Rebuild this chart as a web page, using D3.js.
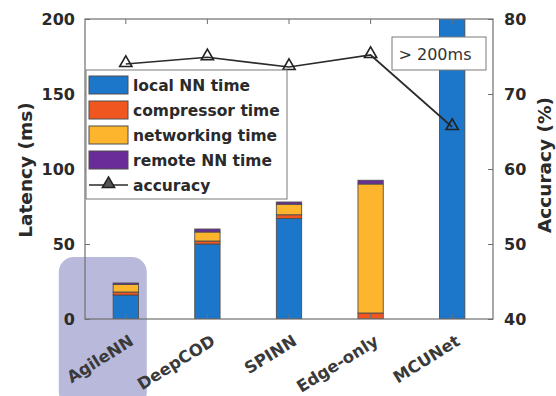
<!DOCTYPE html>
<html>
<head>
<meta charset="utf-8">
<script src="https://cdn.jsdelivr.net/npm/d3@7"></script>
<style>
  html, body { margin: 0; padding: 0; background: #fff; }
  svg { display: block; }
  text { font-family: "DejaVu Sans", sans-serif; }
</style>
</head>
<body>
<svg id="chart" width="556" height="396"></svg>
<script>
// Methods compared
const categories = ["AgileNN", "DeepCOD", "SPINN", "Edge-only", "MCUNet"];

// Latency components per method (ms)
const localNN     = [16, 50, 67, 0, 210];
const compressor  = [2, 2, 2.5, 4, 0];
const networking  = [5, 6, 7, 86, 0];
const remoteNN    = [1, 2, 1.5, 2.5, 0];

// Accuracy per method (%)
const accuracy = [74.0, 74.9, 73.6, 75.2, 65.6];

// Axis ticks
const latencyTicks = [0, 50, 100, 150, 200];
const accuracyTicks = [40, 50, 60, 70, 80];

const seriesKeys = ["local", "compressor", "networking", "remote"];
const seriesLabels = ["local NN time", "compressor time", "networking time", "remote NN time"];
const seriesColors = ["#1c76c9", "#f0561f", "#fdb52e", "#6a2c98"];

const rows = categories.map((c, i) => ({
  name: c,
  local: localNN[i],
  compressor: compressor[i],
  networking: networking[i],
  remote: remoteNN[i]
}));

const svg = d3.select("#chart");
const plotL = 85, plotR = 493, plotT = 19, plotB = 319;

const x = d3.scaleBand().domain(categories).range([plotL, plotR]).paddingInner(0.69).paddingOuter(0.345);
const yL = d3.scaleLinear().domain([0, 200]).range([plotB, plotT]);
const yR = d3.scaleLinear().domain([40, 80]).range([plotB, plotT]);

const axisColor = "#6f6f6f";
const textColor = "#2a2a2a";

// Plot background
svg.append("rect").attr("x", plotL).attr("y", plotT)
  .attr("width", plotR - plotL).attr("height", plotB - plotT).attr("fill", "#fff");

// Highlight around the first method
const hx = x("AgileNN") + x.bandwidth() / 2;
svg.append("rect")
  .attr("x", hx - 67).attr("y", 257)
  .attr("width", 88).attr("height", 150)
  .attr("rx", 15).attr("ry", 15)
  .attr("fill", "#b9b9dc");

// Clip for bars that exceed the axis range
svg.append("clipPath").attr("id", "plotClip")
  .append("rect").attr("x", plotL).attr("y", plotT)
  .attr("width", plotR - plotL).attr("height", plotB - plotT);

const stacked = d3.stack().keys(seriesKeys)(rows);

const barG = svg.append("g").attr("clip-path", "url(#plotClip)");
stacked.forEach((layer, li) => {
  barG.append("g").selectAll("rect")
    .data(layer.filter(d => d[1] - d[0] > 0))
    .join("rect")
    .attr("x", d => x(d.data.name))
    .attr("width", x.bandwidth())
    .attr("y", d => yL(d[1]))
    .attr("height", d => yL(d[0]) - yL(d[1]))
    .attr("fill", seriesColors[li])
    .attr("stroke", "#4f4f4f")
    .attr("stroke-width", 0.9);
});

// Axes box
svg.append("rect").attr("x", plotL).attr("y", plotT)
  .attr("width", plotR - plotL).attr("height", plotB - plotT)
  .attr("fill", "none").attr("stroke", axisColor).attr("stroke-width", 1.2);

// Left axis
const gL = svg.append("g").attr("transform", `translate(${plotL},0)`)
  .call(d3.axisLeft(yL).tickValues(latencyTicks).tickSizeInner(-5).tickSizeOuter(0).tickPadding(10));
// Right axis
const gR = svg.append("g").attr("transform", `translate(${plotR},0)`)
  .call(d3.axisRight(yR).tickValues(accuracyTicks).tickSizeInner(-5).tickSizeOuter(0).tickPadding(11));
// Bottom and top category ticks
const gB = svg.append("g").attr("transform", `translate(0,${plotB})`)
  .call(d3.axisBottom(x).tickSizeInner(-5).tickSizeOuter(0).tickFormat(""));
const gT = svg.append("g").attr("transform", `translate(0,${plotT})`)
  .call(d3.axisTop(x).tickSizeInner(-5).tickSizeOuter(0).tickFormat(""));

[gL, gR, gB, gT].forEach(g => {
  g.select(".domain").remove();
  g.selectAll(".tick line").attr("stroke", axisColor).attr("stroke-width", 1);
  g.selectAll(".tick text")
    .attr("fill", textColor)
    .style("font-family", "DejaVu Sans")
    .style("font-weight", "bold")
    .style("font-size", "16px");
});

// Category labels, rotated
svg.append("g").selectAll("text")
  .data(categories)
  .join("text")
  .attr("transform", d => `translate(${x(d) + x.bandwidth() / 2 + 9},${plotB + 25}) rotate(-32)`)
  .attr("text-anchor", "end")
  .attr("fill", "#3a3a3a")
  .style("font-weight", "bold")
  .style("font-size", "16.5px")
  .text(d => d);

// Axis titles
svg.append("text")
  .attr("transform", `translate(32,170) rotate(-90)`)
  .attr("text-anchor", "middle")
  .attr("fill", textColor)
  .style("font-weight", "bold").style("font-size", "18.5px")
  .text("Latency (ms)");
svg.append("text")
  .attr("transform", `translate(551,165) rotate(-90)`)
  .attr("text-anchor", "middle")
  .attr("fill", textColor)
  .style("font-weight", "bold").style("font-size", "18.5px")
  .text("Accuracy (%)");

// Accuracy line
const cx = d => x(d) + x.bandwidth() / 2;
svg.append("path")
  .datum(categories.map((c, i) => [cx(c), yR(accuracy[i])]))
  .attr("d", d3.line())
  .attr("fill", "none").attr("stroke", "#2b2b2b").attr("stroke-width", 1.7);

const tri = d3.symbol().type(d3.symbolTriangle).size(65);
svg.append("g").selectAll("path")
  .data(categories)
  .join("path")
  .attr("transform", (d, i) => `translate(${cx(d)},${yR(accuracy[i]) - 1})`)
  .attr("d", tri)
  .attr("fill", "none").attr("stroke", "#222").attr("stroke-width", 1.6);

// Out-of-range annotation
svg.append("rect").attr("x", 392).attr("y", 37).attr("width", 94).attr("height", 33)
  .attr("fill", "#fff").attr("stroke", "#7a7a7a").attr("stroke-width", 1);
svg.append("text").attr("x", 435).attr("y", 60)
  .attr("text-anchor", "middle").attr("fill", "#333")
  .style("font-size", "16px")
  .text("> 200ms");

// Legend
const lg = svg.append("g");
lg.append("rect").attr("x", 86).attr("y", 70).attr("width", 201).attr("height", 129)
  .attr("fill", "#fff").attr("stroke", "#7a7a7a").attr("stroke-width", 1);
const rowY = i => 85 + i * 25;
seriesLabels.forEach((lab, i) => {
  lg.append("rect").attr("x", 89).attr("y", rowY(i) - 9).attr("width", 39).attr("height", 18)
    .attr("fill", seriesColors[i]).attr("stroke", "#4f4f4f").attr("stroke-width", 1);
  lg.append("text").attr("x", 133).attr("y", rowY(i) + 6)
    .attr("fill", textColor).style("font-weight", "bold").style("font-size", "15.5px")
    .text(lab);
});
lg.append("line").attr("x1", 89).attr("x2", 128).attr("y1", rowY(4)).attr("y2", rowY(4))
  .attr("stroke", "#2b2b2b").attr("stroke-width", 1.7);
lg.append("path").attr("transform", `translate(108.5,${rowY(4) - 1})`).attr("d", tri)
  .attr("fill", "#555").attr("stroke", "#222").attr("stroke-width", 1.5);
lg.append("text").attr("x", 133).attr("y", rowY(4) + 6)
  .attr("fill", textColor).style("font-weight", "bold").style("font-size", "15.5px")
  .text("accuracy");
</script>
</body>
</html>
